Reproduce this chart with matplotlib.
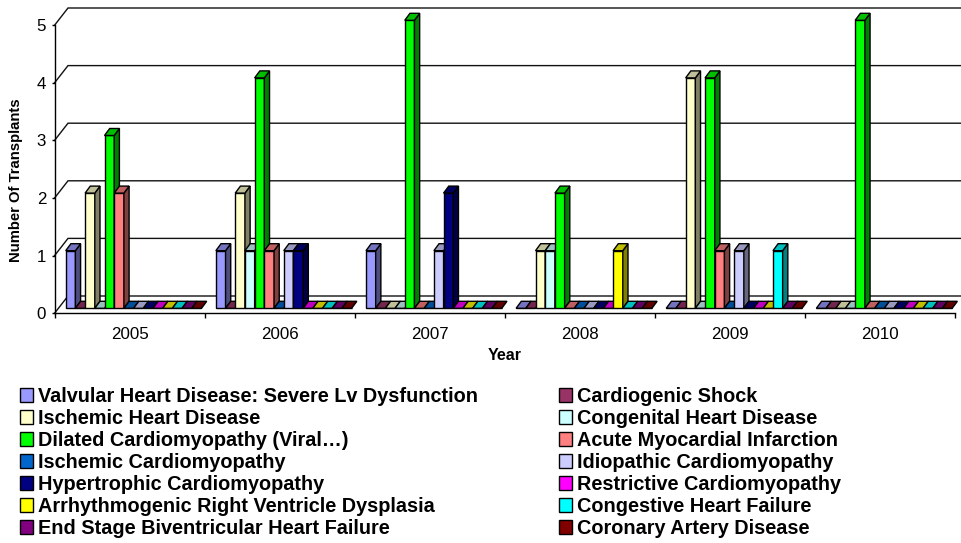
import matplotlib
matplotlib.use("Agg")
import matplotlib.pyplot as plt
from matplotlib.patches import Patch
from matplotlib.colors import to_rgb

plt.rcParams['font.family'] = ['Liberation Sans', 'DejaVu Sans']

years = ['2005', '2006', '2007', '2008', '2009', '2010']
series_names = [
    'Valvular Heart Disease: Severe Lv Dysfunction', 'Cardiogenic Shock',
    'Ischemic Heart Disease', 'Congenital Heart Disease',
    'Dilated Cardiomyopathy (Viral…)', 'Acute Myocardial Infarction',
    'Ischemic Cardiomyopathy', 'Idiopathic Cardiomyopathy',
    'Hypertrophic Cardiomyopathy', 'Restrictive Cardiomyopathy',
    'Arrhythmogenic Right Ventricle Dysplasia', 'Congestive Heart Failure',
    'End Stage Biventricular Heart Failure', 'Coronary Artery Disease',
]
valvular = [1, 1, 1, 0, 0, 0]
cardiogenic = [0, 0, 0, 0, 0, 0]
ischemic_hd = [2, 2, 0, 1, 4, 0]
congenital = [0, 1, 0, 1, 0, 0]
dilated = [3, 4, 5, 2, 4, 5]
acute_mi = [2, 1, 0, 0, 1, 0]
ischemic_cm = [0, 0, 0, 0, 0, 0]
idiopathic = [0, 1, 1, 0, 1, 0]
hypertrophic = [0, 1, 2, 0, 0, 0]
restrictive = [0, 0, 0, 0, 0, 0]
arrhythmogenic = [0, 0, 0, 1, 0, 0]
congestive = [0, 0, 0, 0, 1, 0]
end_stage = [0, 0, 0, 0, 0, 0]
coronary = [0, 0, 0, 0, 0, 0]
colors = ['#9999FF', '#993366', '#FFFFCC', '#CCFFFF', '#00FF00', '#FF8080', '#0066CC',
          '#CCCCFF', '#000080', '#FF00FF', '#FFFF00', '#00FFFF', '#800080', '#800000']
all_series = [valvular, cardiogenic, ischemic_hd, congenital, dilated, acute_mi, ischemic_cm,
              idiopathic, hypertrophic, restrictive, arrhythmogenic, congestive, end_stage, coronary]

W, H = 961, 543
fig = plt.figure(figsize=(W / 100, H / 100), dpi=100)
X0, X1, Y0 = 54.5, 955.3, 313.3
PXY = 57.6
PXX = (X1 - X0) / 6
ymax = 5.31
ax = fig.add_axes([X0 / W, 1 - Y0 / H, (X1 - X0) / W, ymax * PXY / H])
ax.set_xlim(0, 6)
ax.set_ylim(0, ymax)

def px(v):
    return v / PXX
def py(v):
    return v / PXY

# back wall grid
wall_dx, wall_dy = px(13.5), py(17.3)
for v in range(6):
    ax.plot([0, wall_dx, 6 + wall_dx], [v, v + wall_dy, v + wall_dy],
            color='#111111', lw=1.0, clip_on=False, zorder=1, solid_joinstyle='miter')

bw = px(9.7)
first = px(11.2)
base = py(5.0)
ddx, ddy = px(5.2), py(7.0)


def shade(c, f):
    return tuple(x * f for x in to_rgb(c))


z = 3
for g in range(len(years)):
    for s, vals in enumerate(all_series):
        v = vals[g]
        c = colors[s]
        x = g + first + s * bw
        top = base + v
        ax.bar(x, v, width=bw, bottom=base, align='edge', color=c, edgecolor='black',
               linewidth=1.0, zorder=z, clip_on=False)
        if v > 0:
            ax.fill([x + bw, x + bw + ddx, x + bw + ddx, x + bw],
                    [base, base + ddy, top + ddy, top],
                    facecolor=shade(c, 0.5), edgecolor='black', lw=1.0, zorder=z, clip_on=False)
        ax.fill([x, x + ddx, x + bw + ddx, x + bw], [top, top + ddy, top + ddy, top],
                facecolor=shade(c, 0.75), edgecolor='black', lw=1.0, zorder=z, clip_on=False)
        z += 1

for side in ('top', 'right'):
    ax.spines[side].set_visible(False)
ax.spines['left'].set_bounds(0, 5)
ax.spines['left'].set_linewidth(1.0)
ax.spines['bottom'].set_linewidth(1.0)
ax.spines['left'].set_zorder(500)
ax.spines['bottom'].set_zorder(500)

ax.set_yticks(range(6))
ax.tick_params(axis='y', length=2.5, width=1, labelsize=12.2, pad=3.5)
ax.set_xticks(range(7))
ax.set_xticklabels([])
ax.set_xticks([i + 0.5 for i in range(6)], years, minor=True)
ax.tick_params(axis='x', which='major', length=3.5, width=1)
ax.tick_params(axis='x', which='minor', length=0, labelsize=12.2, pad=10)

ax.set_ylabel('Number Of Transplants', fontsize=10.7, fontweight='bold')
ax.yaxis.set_label_coords((23 - X0) / (X1 - X0), (Y0 - 180) / (ymax * PXY))
ax.set_xlabel('Year', fontsize=11.5, fontweight='bold')
ax.xaxis.set_label_coords(0.5, -(355 - Y0) / (ymax * PXY), )
ax.xaxis.label.set_verticalalignment('center')

order = list(range(0, 14, 2)) + list(range(1, 14, 2))
handles = [Patch(facecolor=colors[i], edgecolor='black', linewidth=1.0) for i in order]
labels = [series_names[i] for i in order]
fs = 14.35
fig.legend(handles, labels, ncol=2, loc='upper left',
           bbox_to_anchor=(20 / W, 1 - 387 / H), bbox_transform=fig.transFigure,
           frameon=False, borderaxespad=0, borderpad=0,
           prop={'size': fs, 'weight': 'bold'},
           handlelength=0.65, handleheight=0.65, handletextpad=0.27,
           labelspacing=0.15, columnspacing=4.05)

fig.savefig('out.png', dpi=100)
